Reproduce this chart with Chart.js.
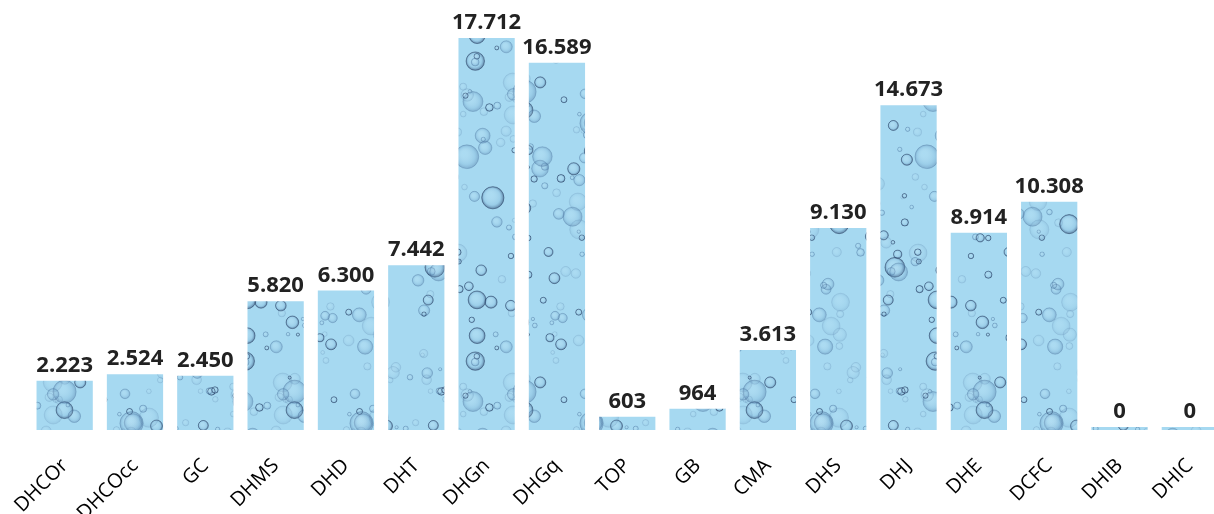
<!DOCTYPE html>
<html>
<head>
<meta charset="utf-8">
<script src="https://cdn.jsdelivr.net/npm/chart.js@4/dist/chart.umd.min.js"></script>
<style>
  html, body { margin: 0; padding: 0; background: #ffffff; overflow: hidden; }
  #wrap { width: 1214px; height: 514px; overflow: hidden; position: relative; }
  canvas { display: block; }
</style>
</head>
<body>
<div id="wrap"><canvas id="c" width="1226" height="514"></canvas></div>
<script>
// ---- data ----
const categories = ['DHCOr','DHCOcc','GC','DHMS','DHD','DHT','DHGn','DHGq','TOP','GB','CMA','DHS','DHJ','DHE','DCFC','DHIB','DHIC'];
const values = [2223, 2524, 2450, 5820, 6300, 7442, 17712, 16589, 603, 964, 3613, 9130, 14673, 8914, 10308, 0, 0];

// ---- helpers ----
function fmtThousands(v) {
  return String(v).replace(/\B(?=(\d{3})+(?!\d))/g, '.');
}

// decorative bubble texture for the bars
function makeBubblePattern() {
  const tile = document.createElement('canvas');
  tile.width = 230; tile.height = 300;
  const g = tile.getContext('2d');
  g.fillStyle = 'rgb(166,217,241)';
  g.fillRect(0, 0, tile.width, tile.height);
  let s = 987654;
  const rnd = () => { s = (s * 1103515245 + 12345) % 2147483648; return s / 2147483648; };
  for (let i = 0; i < 190; i++) {
    const x = rnd() * tile.width, y = rnd() * tile.height;
    const k = rnd();
    const r = k < 0.2 ? 6 + rnd() * 6 : (k < 0.55 ? 3.5 + rnd() * 3 : 1.5 + rnd() * 2.5);
    const tone = rnd();
    const dark = tone < 0.3, faint = tone > 0.65;
    for (const dx of [-tile.width, 0, tile.width]) {
      for (const dy of [-tile.height, 0, tile.height]) {
        const cx = x + dx, cy = y + dy;
        if (cx < -15 || cx > tile.width + 15 || cy < -15 || cy > tile.height + 15) continue;
        const grad = g.createRadialGradient(cx - r * 0.25, cy - r * 0.3, r * 0.1, cx, cy, r);
        grad.addColorStop(0, 'rgba(255,255,255,0.06)');
        grad.addColorStop(0.7, faint ? 'rgba(140,185,215,0.12)' : 'rgba(110,160,200,0.20)');
        grad.addColorStop(1, dark ? 'rgba(35,60,100,0.60)' : (faint ? 'rgba(100,145,185,0.25)' : 'rgba(70,110,155,0.40)'));
        g.fillStyle = grad;
        g.beginPath(); g.arc(cx, cy, r, 0, Math.PI * 2); g.fill();
        g.strokeStyle = dark ? 'rgba(35,60,95,0.6)' : (faint ? 'rgba(110,150,185,0.25)' : 'rgba(80,120,160,0.4)');
        g.lineWidth = 0.8;
        g.stroke();
      }
    }
  }
  return g.createPattern(tile, 'repeat');
}

const valueLabels = {
  id: 'valueLabels',
  afterDatasetsDraw(chart) {
    const ctx = chart.ctx;
    const meta = chart.getDatasetMeta(0);
    ctx.save();
    ctx.font = 'bold 22px "Open Sans"';
    ctx.fillStyle = '#222222';
    ctx.textAlign = 'center';
    ctx.textBaseline = 'alphabetic';
    meta.data.forEach((bar, i) => {
      ctx.fillText(fmtThousands(values[i]), bar.x, bar.y - 9);
    });
    ctx.restore();
  }
};

const ctx = document.getElementById('c').getContext('2d');
new Chart(ctx, {
  type: 'bar',
  data: {
    labels: categories,
    datasets: [{
      data: values,
      backgroundColor: makeBubblePattern(),
      borderWidth: 0,
      barPercentage: 0.8,
      categoryPercentage: 1.0,
      minBarLength: 3
    }]
  },
  options: {
    responsive: false,
    animation: false,
    layout: { padding: { left: 29.5, right: 1, top: 38, bottom: 0 } },
    plugins: { legend: { display: false }, tooltip: { enabled: false } },
    scales: {
      x: {
        grid: { display: false, drawTicks: false },
        border: { display: false },
        ticks: {
          minRotation: 45, maxRotation: 45,
          autoSkip: false,
          padding: 24,
          color: '#000000',
          font: { family: '"Open Sans"', size: 20 }
        },
        afterFit(scale) { scale.height = 84; scale.paddingLeft = 0; scale.paddingRight = 0; }
      },
      y: {
        display: false,
        min: 0,
        max: Math.max(...values)
      }
    }
  },
  plugins: [valueLabels]
});
</script>
</body>
</html>
